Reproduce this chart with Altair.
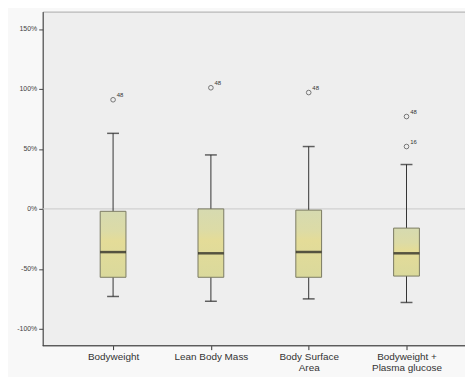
import altair as alt
import pandas as pd

categories = ["Bodyweight", "Lean Body Mass", "Body Surface Area", "Bodyweight + Plasma glucose"]
whisker_low = [-73, -77, -75, -78]
q1 = [-57, -57, -57, -56]
median = [-36, -37, -36, -37]
q3 = [-2, 0, -1, -16]
whisker_high = [63, 45, 52, 37]

outlier_cat = ["Bodyweight", "Lean Body Mass", "Body Surface Area",
               "Bodyweight + Plasma glucose", "Bodyweight + Plasma glucose"]
outlier_val = [91, 101, 97, 77, 52]
outlier_lbl = ["48", "48", "48", "48", "16"]

y_ticks = [-100, -50, 0, 50, 100, 150]

boxes = pd.DataFrame({
    "cat": categories, "lo": whisker_low, "q1": q1, "med": median,
    "q3": q3, "hi": whisker_high,
})
outs = pd.DataFrame({"cat": outlier_cat, "val": outlier_val, "lbl": outlier_lbl})

xenc = alt.X(
    "cat:N",
    sort=categories,
    scale=alt.Scale(type="point", domain=categories, range=[71, 367], padding=0),
    axis=alt.Axis(
        title=None, labelAngle=0, labelFontSize=10, labelColor="#333333",
        labelFont="Liberation Sans", tickColor="#333333", tickSize=4,
        domain=False, labelPadding=2, labelLineHeight=11,
        labelExpr="datum.value == 'Body Surface Area' ? ['Body Surface', 'Area'] : "
                  "datum.value == 'Bodyweight + Plasma glucose' ? ['Bodyweight +', 'Plasma glucose'] : datum.value",
    ),
)
yscale = alt.Scale(domain=[-114, 164.5], nice=False, zero=False)
yaxis = alt.Axis(
    title=None, values=y_ticks, labelExpr="datum.value + '%'", labelFontSize=7,
    labelColor="#444444", labelFont="Liberation Sans", tickColor="#444444",
    tickSize=4, domainColor="#444444", grid=False, labelPadding=2,
)

zero = alt.Chart(pd.DataFrame({"z": [0]})).mark_rule(color="#c8c8c8", strokeWidth=1).encode(
    y=alt.Y("z:Q", scale=yscale, axis=yaxis)
)
bottom = alt.Chart(pd.DataFrame({"z": [0]})).mark_rule(color="#444444", strokeWidth=1).encode(
    x=alt.value(0), x2=alt.value(426), y=alt.value(337)
)

base = alt.Chart(boxes)
whisk = base.mark_rule(color="#333333", strokeWidth=1).encode(
    x=xenc, y=alt.Y("lo:Q", scale=yscale, axis=yaxis), y2="hi:Q"
)
fill = alt.Gradient(
    gradient="linear", x1=0, x2=0, y1=0, y2=1,
    stops=[
        alt.GradientStop(offset=0, color="#d6dab0"),
        alt.GradientStop(offset=0.3, color="#dcdba6"),
        alt.GradientStop(offset=0.45, color="#e4dc98"),
        alt.GradientStop(offset=1, color="#dad99c"),
    ],
)
box = base.mark_bar(size=26, color=fill, stroke="#7a7a62", strokeWidth=1).encode(
    x=xenc, y=alt.Y("q3:Q", scale=yscale), y2="q1:Q"
)
med = base.mark_tick(size=26, thickness=2.5, color="#1a1a1a").encode(
    x=xenc, y=alt.Y("med:Q", scale=yscale)
)
cap_lo = base.mark_tick(size=12, thickness=1.5, color="#222222").encode(
    x=xenc, y=alt.Y("lo:Q", scale=yscale)
)
cap_hi = base.mark_tick(size=12, thickness=1.5, color="#222222").encode(
    x=xenc, y=alt.Y("hi:Q", scale=yscale)
)

ob = alt.Chart(outs)
pts = ob.mark_point(shape="circle", filled=False, size=22, color="#444444", strokeWidth=1).encode(
    x=xenc, y=alt.Y("val:Q", scale=yscale)
)
lbls = ob.mark_text(dx=7, dy=-5, fontSize=6, color="#333333", font="Liberation Sans").encode(
    x=xenc, y=alt.Y("val:Q", scale=yscale), text="lbl:N"
)

chart = alt.layer(zero, whisk, box, med, cap_lo, cap_hi, pts, lbls, bottom).properties(
    width=426, height=337,
    autosize=alt.AutoSizeParams(type="none"),
    padding={"left": 35, "top": 2, "right": 0, "bottom": 30},
    background="#f8f8f8",
).configure_view(fill="#eeeeee", stroke="#a8a8a8", strokeWidth=1)

chart.save("out.html", embed_options={"renderer": "svg", "actions": False})
